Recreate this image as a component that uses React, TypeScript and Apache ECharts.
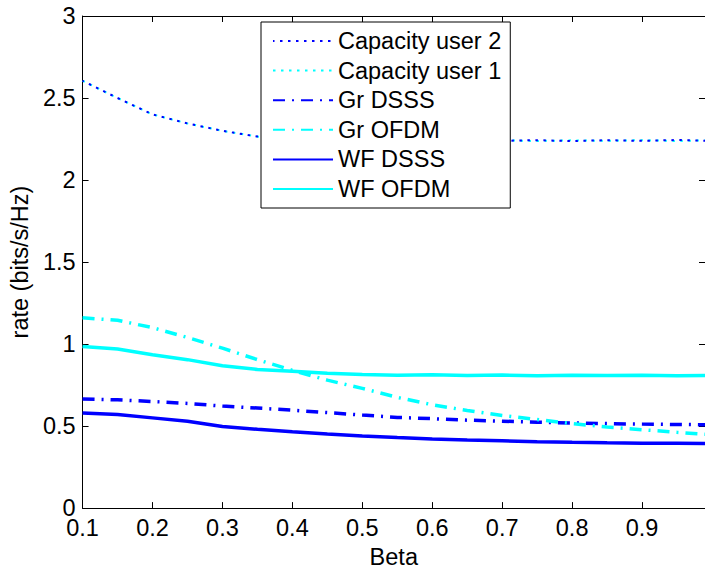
import React, { useEffect, useRef } from "react";
import * as echarts from "echarts";

const betaValues = [0.10, 0.15, 0.20, 0.25, 0.30, 0.35, 0.40, 0.45, 0.50, 0.55, 0.60, 0.65, 0.70, 0.75, 0.80, 0.85, 0.90, 0.95, 0.99];

const capacityUser2 = [2.605, 2.50, 2.40, 2.345, 2.30, 2.265, 2.25, 2.245, 2.24, 2.24, 2.238, 2.241, 2.239, 2.243, 2.237, 2.243, 2.239, 2.244, 2.24];
const capacityUser1 = [2.605, 2.50, 2.40, 2.345, 2.30, 2.265, 2.25, 2.245, 2.24, 2.24, 2.241, 2.238, 2.242, 2.238, 2.242, 2.239, 2.243, 2.238, 2.242];
const grDSSS = [0.665, 0.66, 0.65, 0.638, 0.622, 0.61, 0.597, 0.582, 0.567, 0.553, 0.545, 0.536, 0.53, 0.524, 0.519, 0.515, 0.512, 0.51, 0.508];
const grOFDM = [1.16, 1.145, 1.10, 1.04, 0.975, 0.905, 0.84, 0.78, 0.73, 0.675, 0.63, 0.595, 0.565, 0.54, 0.515, 0.495, 0.478, 0.462, 0.45];
const wfDSSS = [0.58, 0.57, 0.55, 0.53, 0.497, 0.48, 0.465, 0.452, 0.44, 0.43, 0.422, 0.415, 0.41, 0.405, 0.401, 0.398, 0.396, 0.395, 0.394];
const wfOFDM = [0.985, 0.97, 0.935, 0.905, 0.868, 0.845, 0.835, 0.822, 0.815, 0.81, 0.813, 0.808, 0.811, 0.807, 0.81, 0.808, 0.81, 0.807, 0.809];

const legendNames = ["Capacity user 2", "Capacity user 1", "Gr DSSS", "Gr OFDM", "WF DSSS", "WF OFDM"];
const xTickValues = [0.1, 0.2, 0.3, 0.4, 0.5, 0.6, 0.7, 0.8, 0.9];

const BLUE = "#0000ff";
const CYAN = "#00ffff";
const FONT = "'Liberation Sans', Arial, Helvetica, sans-serif";
const FS = 23.5;

function pairs(ys: number[]) {
  return betaValues.map((b, i) => [b, ys[i]]);
}

export default function App() {
  const ref = useRef<HTMLDivElement>(null);
  useEffect(() => {
    if (!ref.current) return;
    const chart = echarts.init(ref.current, undefined, { renderer: "svg" });
    const dotted = [2.5, 5.5];
    const dashDot = [12, 7, 2, 7];
    const mk = (name: string, ys: number[], color: string, type: any, width: number, offset = 0) => ({
      name,
      type: "line",
      data: pairs(ys),
      symbol: "none",
      showSymbol: false,
      color,
      lineStyle: { color, width, type, dashOffset: offset, cap: "butt" },
      z: 2,
    });
    chart.setOption({
      animation: false,
      backgroundColor: "#fff",
      textStyle: { fontFamily: FONT },
      grid: { left: 82, top: 16, width: 624, height: 500, containLabel: false },
      legend: {
        data: legendNames,
        orient: "vertical",
        left: 261,
        top: 22,
        padding: [7, 9, 7, 11],
        itemWidth: 60,
        itemHeight: 20,
        itemGap: 5.6,
        backgroundColor: "#fff",
        borderColor: "#000",
        borderWidth: 1,
        itemStyle: { opacity: 0 },
        textStyle: { fontSize: FS, color: "#000", fontFamily: FONT, lineHeight: 20 },
        selectedMode: false,
        z: 10,
      },
      xAxis: [
        {
          type: "value",
          min: 0.1,
          max: 0.99,
          interval: 0.1,
          name: "Beta",
          nameLocation: "middle",
          nameGap: 36,
          nameTextStyle: { fontSize: FS, color: "#000", fontFamily: FONT },
          axisLine: { show: true, onZero: false, lineStyle: { color: "#000", width: 1 } },
          axisTick: { show: true, inside: true, length: 6, lineStyle: { color: "#000" } },
          axisLabel: {
            fontSize: FS,
            color: "#000",
            margin: 8,
            fontFamily: FONT,
            showMaxLabel: false,
            formatter: (v: number) => {
              const r = Math.round(v * 10) / 10;
              return xTickValues.some((t) => Math.abs(t - v) < 1e-6) ? String(r) : "";
            },
          },
          splitLine: { show: false },
        },
        {
          type: "value",
          position: "top",
          min: 0.1,
          max: 0.99,
          interval: 0.1,
          axisLine: { show: true, onZero: false, lineStyle: { color: "#000", width: 1 } },
          axisTick: { show: true, inside: true, length: 6, lineStyle: { color: "#000" } },
          axisLabel: { show: false },
          splitLine: { show: false },
        },
      ],
      yAxis: [
        {
          type: "value",
          min: 0,
          max: 3,
          interval: 0.5,
          name: "rate (bits/s/Hz)",
          nameLocation: "middle",
          nameGap: 34,
          nameTextStyle: { fontSize: FS, color: "#000", fontFamily: FONT },
          axisLine: { show: true, onZero: false, lineStyle: { color: "#000", width: 1 } },
          axisTick: { show: true, inside: true, length: 6, lineStyle: { color: "#000" } },
          axisLabel: { fontSize: FS, color: "#000", margin: 7, fontFamily: FONT },
          splitLine: { show: false },
        },
        {
          type: "value",
          position: "right",
          min: 0,
          max: 3,
          interval: 0.5,
          axisLine: { show: true, onZero: false, lineStyle: { color: "#000", width: 1 } },
          axisTick: { show: true, inside: true, length: 6, lineStyle: { color: "#000" } },
          axisLabel: { show: false },
          splitLine: { show: false },
        },
      ],
      series: [
        mk("Capacity user 1", capacityUser1, CYAN, dotted, 2, 0),
        mk("Capacity user 2", capacityUser2, BLUE, dotted, 2, 1.2),
        mk("Gr DSSS", grDSSS, BLUE, dashDot, 3.5),
        mk("Gr OFDM", grOFDM, CYAN, dashDot, 3.5),
        mk("WF DSSS", wfDSSS, BLUE, "solid", 3.5),
        mk("WF OFDM", wfOFDM, CYAN, "solid", 3.5),
      ],
    });
    return () => chart.dispose();
  }, []);
  return <div ref={ref} style={{ position: "fixed", left: 0, top: 0, width: 705, height: 574, background: "#fff" }} />;
}
